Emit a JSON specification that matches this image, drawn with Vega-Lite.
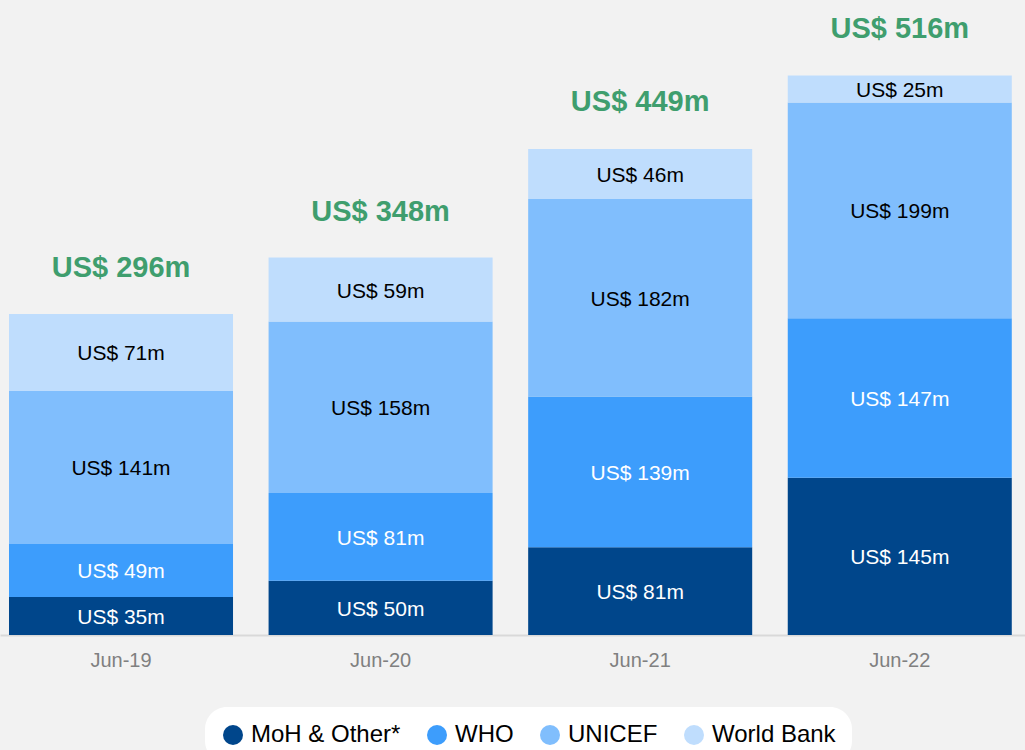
{
  "$schema": "https://vega.github.io/schema/vega-lite/v6.json",
  "width": 1025,
  "height": 635,
  "padding": 0,
  "autosize": {"type": "pad"},
  "background": "#f2f2f2",
  "config": {
    "view": {"stroke": null},
    "font": "Liberation Sans"
  },
  "datasets": {
    "segments": [
      {"period": "Jun-19", "source": "MoH & Other*", "k": 1, "value": 35},
      {"period": "Jun-19", "source": "WHO", "k": 2, "value": 49},
      {"period": "Jun-19", "source": "UNICEF", "k": 3, "value": 141},
      {"period": "Jun-19", "source": "World Bank", "k": 4, "value": 71},
      {"period": "Jun-20", "source": "MoH & Other*", "k": 1, "value": 50},
      {"period": "Jun-20", "source": "WHO", "k": 2, "value": 81},
      {"period": "Jun-20", "source": "UNICEF", "k": 3, "value": 158},
      {"period": "Jun-20", "source": "World Bank", "k": 4, "value": 59},
      {"period": "Jun-21", "source": "MoH & Other*", "k": 1, "value": 81},
      {"period": "Jun-21", "source": "WHO", "k": 2, "value": 139},
      {"period": "Jun-21", "source": "UNICEF", "k": 3, "value": 182},
      {"period": "Jun-21", "source": "World Bank", "k": 4, "value": 46},
      {"period": "Jun-22", "source": "MoH & Other*", "k": 1, "value": 145},
      {"period": "Jun-22", "source": "WHO", "k": 2, "value": 147},
      {"period": "Jun-22", "source": "UNICEF", "k": 3, "value": 199},
      {"period": "Jun-22", "source": "World Bank", "k": 4, "value": 25}
    ],
    "totals": [
      {"period": "Jun-19", "total": 296},
      {"period": "Jun-20", "total": 348},
      {"period": "Jun-21", "total": 449},
      {"period": "Jun-22", "total": 516}
    ]
  },
  "encoding": {
    "x": {
      "field": "period",
      "type": "nominal",
      "sort": ["Jun-19", "Jun-20", "Jun-21", "Jun-22"],
      "scale": {"paddingInner": 0.137, "paddingOuter": 0.0428, "align": 0.405},
      "axis": {
        "title": null,
        "labelAngle": 0,
        "labelFontSize": 20,
        "labelColor": "#808080",
        "labelPadding": 15,
        "ticks": false,
        "domainColor": "#d9d9d9",
        "domainWidth": 2
      }
    }
  },
  "layer": [
    {
      "data": {"name": "segments"},
      "transform": [
        {"stack": "value", "groupby": ["period"], "sort": [{"field": "k", "order": "ascending"}], "as": ["y0", "y1"]},
        {"calculate": "(datum.y0 + datum.y1) / 2", "as": "mid"},
        {"calculate": "'US$ ' + datum.value + 'm'", "as": "label"}
      ],
      "layer": [
        {
          "mark": {"type": "bar"},
          "encoding": {
            "y": {"field": "y0", "type": "quantitative", "scale": {"domain": [0, 585.5], "nice": false}, "axis": null},
            "y2": {"field": "y1"},
            "color": {
              "field": "source",
              "type": "nominal",
              "scale": {
                "domain": ["MoH & Other*", "WHO", "UNICEF", "World Bank"],
                "range": ["#00468b", "#3d9dfc", "#80befd", "#bfddfd"]
              },
              "legend": {
                "title": null,
                "orient": "none",
                "direction": "horizontal",
                "legendX": 205,
                "legendY": 707,
                "symbolType": "circle",
                "symbolSize": 400,
                "symbolStrokeWidth": 0,
                "labelFontSize": 24,
                "labelColor": "#000000",
                "labelOffset": 6,
                "columnPadding": 24,
                "fillColor": "#ffffff",
                "cornerRadius": 22,
                "padding": 16
              }
            }
          }
        },
        {
          "mark": {"type": "text", "fontSize": 21, "baseline": "middle", "align": "center", "dy": 2},
          "encoding": {
            "y": {"field": "mid", "type": "quantitative"},
            "text": {"field": "label", "type": "nominal"},
            "color": {"condition": {"test": "datum.k <= 2", "value": "#ffffff"}, "value": "#000000"}
          }
        }
      ]
    },
    {
      "data": {"name": "totals"},
      "transform": [
        {"calculate": "'US$ ' + datum.total + 'm'", "as": "tlabel"}
      ],
      "mark": {"type": "text", "fontSize": 29, "fontWeight": "bold", "color": "#3f9e6e", "baseline": "middle", "align": "center", "dy": -46},
      "encoding": {
        "y": {"field": "total", "type": "quantitative"},
        "text": {"field": "tlabel", "type": "nominal"}
      }
    }
  ]
}
